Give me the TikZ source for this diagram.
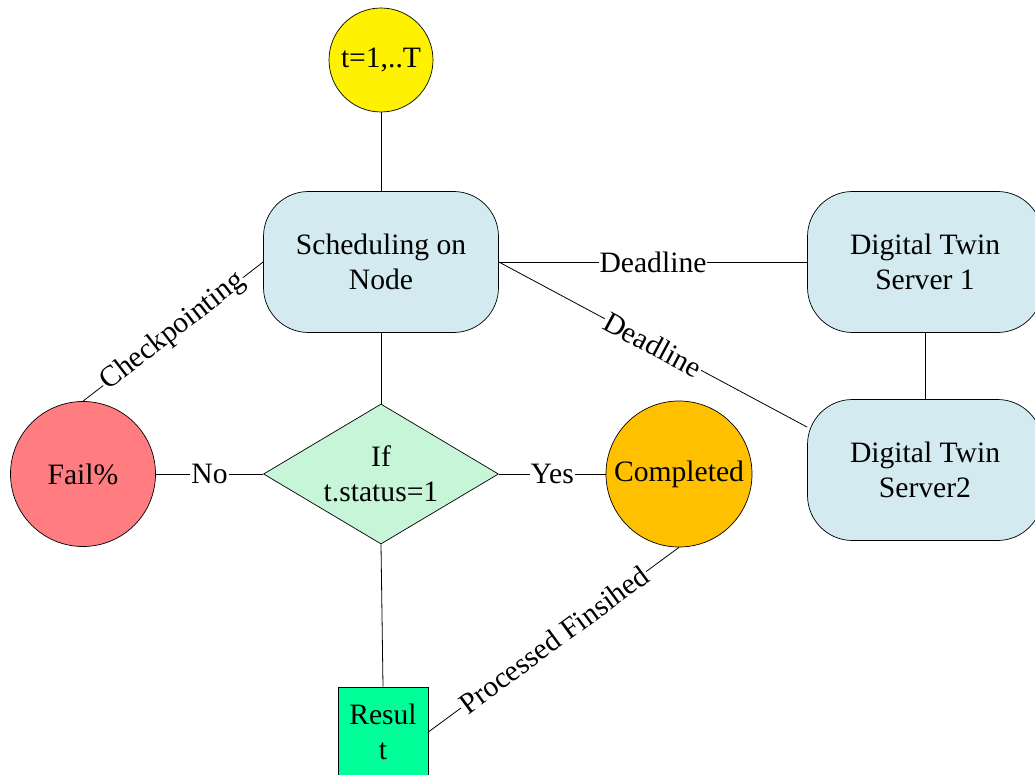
\documentclass[tikz,border=0pt]{standalone}
\usepackage{fontspec}
\setmainfont{Liberation Serif}
\usetikzlibrary{shapes.geometric}
\definecolor{boxblue}{HTML}{D3EBF0}
\definecolor{failred}{HTML}{FF7C80}
\definecolor{diagreen}{HTML}{C6F5D8}
\definecolor{compor}{HTML}{FFC000}
\definecolor{resgreen}{HTML}{00FF99}
\begin{document}
\begin{tikzpicture}[x=1pt,y=-1pt,
  every node/.style={font=\fontsize{29.6}{35}\selectfont},
  conn/.style={draw=black, line width=0.8pt},
  elabel/.style={fill=white, inner sep=1pt},
  roundbox/.style={draw, line width=0.7pt, rounded corners=45pt, minimum width=235pt, minimum height=141pt, fill=boxblue, align=center, inner sep=0pt},
  circ/.style={circle, draw, line width=0.7pt, inner sep=0pt},
]
\useasboundingbox (0,0) rectangle (1035,775);
\clip (0,0) rectangle (1035,775);
\node[circ, fill=yellow, minimum size=104pt] (start) at (381,60) {t=1,..T};
\node[roundbox] (sched) at (381,262) {Scheduling on\\Node};
\node[roundbox] (dt1) at (925,262) {Digital Twin\\Server 1};
\node[roundbox] (dt2) at (925,470) {Digital Twin\\Server2};
\node[diamond, draw, line width=0.7pt, fill=diagreen, minimum width=235pt, minimum height=140pt, inner sep=0pt,
  label={[align=center]center:If\\t.status=1}] (dia) at (381,474) {};
\node[circ, fill=failred, minimum size=145pt] (fail) at (83,474) {Fail\%};
\node[circ, fill=compor, minimum size=146pt] (comp) at (679,474) {Completed};
\node[draw, line width=0.7pt, fill=resgreen, minimum width=90pt, minimum height=90pt, inner sep=0pt, align=center] (res) at (383,732) {Resul\\t};

\draw[conn] (start) -- (sched);
\draw[conn] (sched.east) -- node[elabel]{Deadline} (dt1.west);
\draw[conn] (sched.east) -- node[elabel, sloped]{Deadline} (dt2.160);
\draw[conn] (dt1) -- (dt2);
\draw[conn] (sched) -- (dia);
\draw[conn] (fail.north) -- node[elabel, sloped]{Checkpointing} (sched.west);
\draw[conn] (fail.east) -- node[elabel]{No} (dia.west);
\draw[conn] (dia.east) -- node[elabel]{Yes} (comp.west);
\draw[conn] (dia.south) -- (res.north);
\draw[conn] (res.east) -- node[elabel, sloped]{Processed Finsihed} (comp.south);
\end{tikzpicture}
\end{document}
